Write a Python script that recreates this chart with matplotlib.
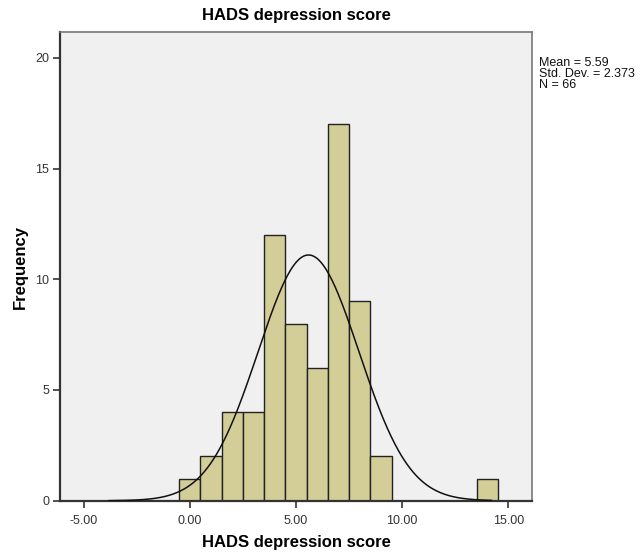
import numpy as np
import matplotlib
matplotlib.use("Agg")
import matplotlib.pyplot as plt

# histogram counts per unit bin centred on the integer score
bin_centers = [0, 1, 2, 3, 4, 5, 6, 7, 8, 9, 10, 11, 12, 13, 14]
counts = [1, 2, 4, 4, 12, 8, 6, 17, 9, 2, 0, 0, 0, 0, 1]
mean = 5.59
sd = 2.373
n = 66
x_ticks = [-5, 0, 5, 10, 15]
y_ticks = [0, 5, 10, 15, 20]

plt.rcParams['font.family'] = ['Liberation Sans', 'DejaVu Sans']

fig = plt.figure(figsize=(6.4, 5.58), dpi=100)
ax = fig.add_axes([0.094, 0.1027, 0.737, 0.8394])
ax.set_facecolor('#f0f0f0')

ax.bar(bin_centers, counts, width=1.0, color='#d3ce97', edgecolor='#222222',
       linewidth=1.0, zorder=2)

# normal curve scaled to counts (bin width 1)
xs = np.linspace(-3.8, 14.2, 400)
ys = n * np.exp(-0.5 * ((xs - mean) / sd) ** 2) / (sd * np.sqrt(2 * np.pi))
ax.plot(xs, ys, color='#111111', linewidth=1.1, zorder=3)

ax.set_xlim(-6.1, 16.1)
ax.set_ylim(0, 21.15)
ax.set_xticks(x_ticks)
ax.set_xticklabels(['%.2f' % t for t in x_ticks])
ax.set_yticks(y_ticks)
ax.tick_params(axis='both', direction='out', length=5, width=1.2,
               labelsize=9, colors='#333333', pad=3)
ax.tick_params(axis='x', pad=5)

for side in ['top', 'right']:
    ax.spines[side].set_color('#777777')
    ax.spines[side].set_linewidth(1.2)
for side in ['left', 'bottom']:
    ax.spines[side].set_color('#333333')
    ax.spines[side].set_linewidth(1.6)

ax.set_title('HADS depression score', fontsize=12, fontweight='bold', pad=9)
ax.set_xlabel('HADS depression score', fontsize=12, fontweight='bold')
ax.xaxis.set_label_coords(0.5, -0.09)
ax.xaxis.label.set_va('center')
ax.set_ylabel('Frequency', fontsize=12, fontweight='bold')
ax.yaxis.set_label_coords(-0.085, 0.5)
ax.yaxis.label.set_va('center')

fig.text(0.842, 0.898, 'Mean = 5.59\nStd. Dev. = 2.373\nN = 66', fontsize=9,
         va='top', ha='left', linespacing=0.88, color='#111111')

fig.savefig('out.png', dpi=100)
